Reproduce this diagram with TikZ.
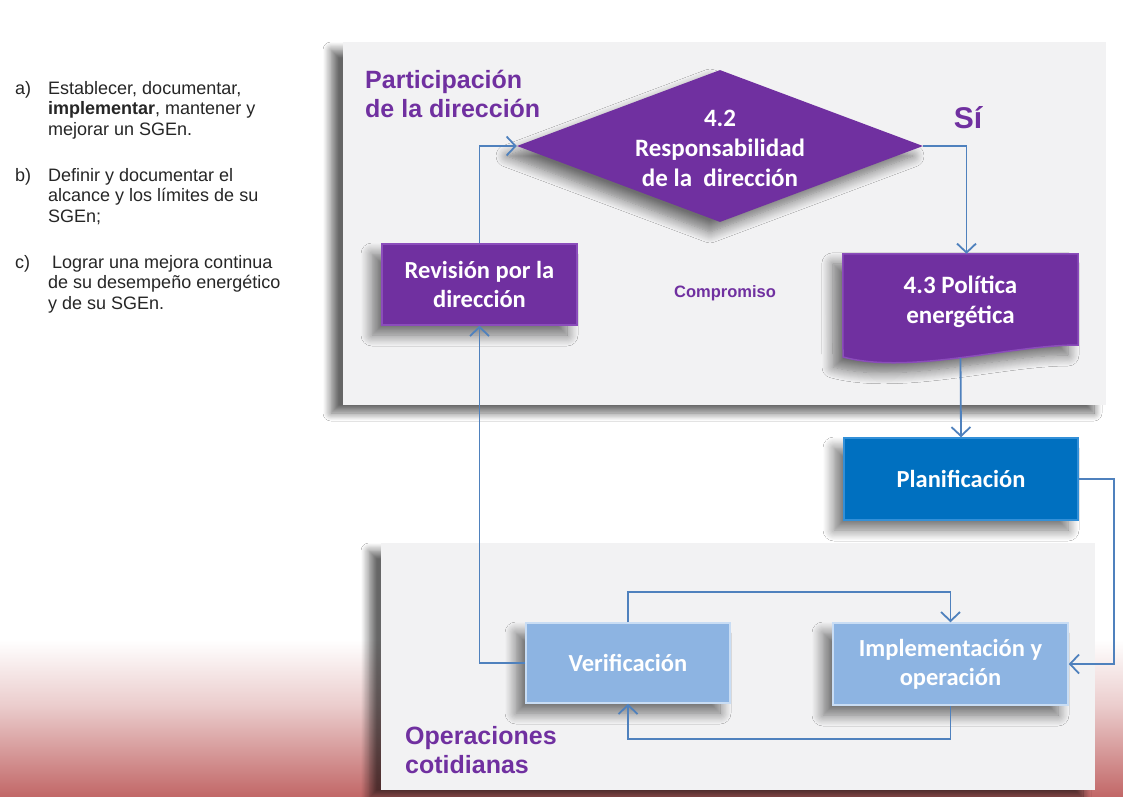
\documentclass[tikz,border=0pt]{standalone}
\usepackage{fontspec}
\setmainfont{Liberation Sans}
\newfontfamily\boxfont{Carlito}
\usetikzlibrary{arrows.meta,shapes.geometric,shadows.blur}
\definecolor{purp}{HTML}{7030A0}
\definecolor{purpedge}{HTML}{8B4DBB}
\definecolor{planblue}{HTML}{0070C0}
\definecolor{planedge}{HTML}{3390D8}
\definecolor{lblue}{HTML}{8DB4E2}
\definecolor{lblueedge}{HTML}{C9DDF4}
\definecolor{conncol}{HTML}{4F81BD}
\definecolor{panel}{HTML}{F2F2F3}
\definecolor{pinkbg}{HTML}{EBCDCD}
\definecolor{redbg}{HTML}{C26868}
\begin{document}
\begin{tikzpicture}[x=1pt,y=-1pt,
  boxshadow/.style={blur shadow={shadow xshift=-10pt,shadow yshift=-10pt,shadow opacity=55,shadow blur radius=11pt,shadow blur steps=12}},
  panelbox/.style={rectangle,fill=panel,inner sep=0pt,blur shadow={shadow xshift=-12pt,shadow yshift=-8pt,shadow opacity=60,shadow blur radius=8pt,shadow blur steps=10}},
  proc/.style={rectangle,boxshadow,inner sep=0pt,align=center,text=white,font=\boxfont\bfseries\fontsize{24.5}{29}\selectfont},
  purpbox/.style={proc,fill=purp,draw=purpedge,line width=1.5pt},
  planbox/.style={proc,fill=planblue,draw=planedge,line width=1.5pt},
  lbox/.style={proc,fill=lblue,draw=lblueedge,line width=1.5pt},
  boxtext/.style={align=center,text=white,inner sep=0pt,font=\boxfont\bfseries\fontsize{25}{30}\selectfont},
  grouplabel/.style={align=left,text=purp,inner sep=0pt,anchor=north west,font=\bfseries\fontsize{25}{29}\selectfont},
  listtext/.style={align=left,inner sep=0pt,anchor=north west,text=black!85,font=\fontsize{18}{20.5}\selectfont},
  conn/.style={draw=conncol,line width=1.8pt,-{Straight Barb[length=9pt,width=19pt]}},
]
\useasboundingbox (0,0) rectangle (1123,796);
\fill[white] (0,0) rectangle (1123,796);
\shade[top color=white,bottom color=pinkbg] (0,640) rectangle (1123,705);
\shade[top color=pinkbg,bottom color=redbg] (0,705) rectangle (1123,796);

% panels
\node[panelbox,minimum width=763pt,minimum height=363pt] (toppanel) at (724.5,223.5) {};
\node[panelbox,minimum width=714pt,minimum height=247pt] (botpanel) at (738,666.5) {};

% left list
\node[listtext] (la) at (15,81) {a)};
\node[listtext] (ta) at (48,81) {Establecer, documentar,\\\textbf{implementar}, mantener y\\mejorar un SGEn.};
\node[listtext] (lb) at (15,168) {b)};
\node[listtext] (tb) at (48,168) {Definir y documentar el\\alcance y los límites de su\\SGEn;};
\node[listtext] (lc) at (15,255) {c)};
\node[listtext] (tc) at (48,255) {\hspace{4pt}Lograr una mejora continua\\de su desempeño energético\\y de su SGEn.};

% group labels
\node[grouplabel] (part) at (365,70) {Participación\\de la dirección};
\node[grouplabel] (oper) at (405,726) {Operaciones\\cotidianas};

% shapes
\node[diamond,fill=purp,minimum width=406pt,minimum height=152pt,inner sep=0pt,boxshadow] (dia) at (720,146) {};
\node[boxtext] (diat) at (720,148) {4.2\\Responsabilidad\\de la\ \ dirección};
\node[text=purp,inner sep=0pt,font=\bfseries\fontsize{30}{34}\selectfont] (si) at (968,118) {Sí};
\node[purpbox,minimum width=195pt,minimum height=81pt] (rev) at (479.5,284.5) {Revisión por la\\dirección};
\node[text=purp,inner sep=0pt,font=\bfseries\fontsize{16.5}{20}\selectfont] (comp) at (725,293) {Compromiso};
\node[rectangle,inner sep=0pt,minimum width=235pt,minimum height=96pt] (pol) at (960.5,302) {};
\fill[purp,draw=purpedge,line width=1.5pt,boxshadow] (pol.north west) -- (pol.north east) -- (1078,345) .. controls (1010,345) and (910,375) .. (843,357) -- cycle;
\node[boxtext,font=\boxfont\bfseries\fontsize{25}{30}\selectfont] (polt) at (pol.center) {4.3 Política\\energética};
\node[planbox,minimum width=234pt,minimum height=82pt] (plan) at (961,479) {Planificación};
\node[lbox,minimum width=204pt,minimum height=80pt] (ver) at (628,663) {Verificación};
\node[lbox,minimum width=235pt,minimum height=82pt] (impl) at (950.5,664) {Implementación y\\operación};

% connectors
\draw[conn] (rev.north) |- (dia.west);
\draw[conn] (dia.east) -| ([xshift=6pt]pol.north);
\draw[conn] ([yshift=-8pt]pol.south) -- (plan.north);
\draw[conn] (plan.east) -- ++(35,0) |- (impl.east);
\draw[conn] (impl.south) -- ++(0,33) -| (ver.south);
\draw[conn] (ver.north) -- ++(0,-30) -| (impl.north);
\draw[conn] (ver.west) -| (rev.south);
\end{tikzpicture}
\end{document}
